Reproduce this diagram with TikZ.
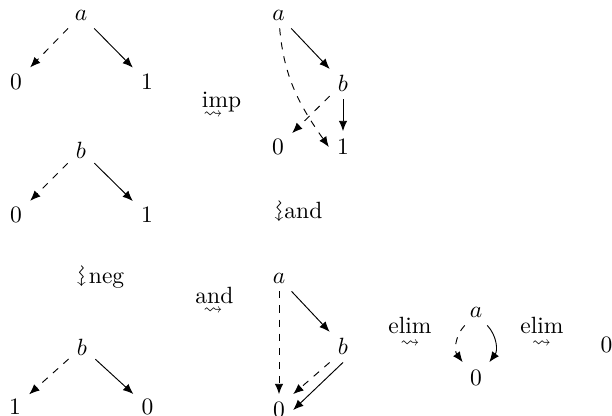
\documentclass[tikz,border=0pt]{standalone}
\usepackage{amssymb}
\usetikzlibrary{arrows.meta}
\begin{document}
\begin{tikzpicture}[x=0.4255pt,y=0.4255pt,
  every node/.style={inner sep=3.33pt},
  arr/.style={-{Latex[length=4.4pt,width=3.6pt]}, line width=0.4pt},
  darr/.style={arr,dashed},
  lbl/.style={inner sep=0pt, anchor=base west},
  sq/.style={inner sep=0pt, font=\footnotesize},
  vsq/.style={inner sep=0pt, rotate=-90}]
\useasboundingbox (0,0) rectangle (612,-416);
% tree 1
\node (a1) at (81,-15) {$a$};
\node (z1) at (16,-82) {$0$};
\node (o1) at (147,-82) {$1$};
\draw[darr] (a1) -- (z1);
\draw[arr] (a1) -- (o1);
% tree 2
\node (a2) at (278.5,-15) {$a$};
\node (b2) at (343,-83) {$b$};
\node (z2) at (278,-147) {$0$};
\node (o2) at (343,-147) {$1$};
\draw[arr] (a2) -- (b2);
\draw[darr] (a2) to[out=-85,in=125] (o2.west);
\draw[darr] (b2) -- (z2);
\draw[arr] (b2) -- (o2);
% imp
\node[lbl] (imp) at (201.5,-107.5) {imp};
\node[sq] (impsq) at (213,-115) {$\rightsquigarrow$};
% tree 3
\node (b3) at (81,-150) {$b$};
\node (z3) at (16,-215) {$0$};
\node (o3) at (147,-215) {$1$};
\draw[darr] (b3) -- (z3);
\draw[arr] (b3) -- (o3);
% vertical and
\node[vsq] (andsq) at (277.5,-211) {$\rightsquigarrow$};
\node[lbl] (andt) at (284,-218) {and};
% neg
\node[vsq] (negsq) at (80,-276) {$\rightsquigarrow$};
\node[lbl] (negt) at (88.5,-283) {neg};
% tree 4
\node (b4) at (82,-347) {$b$};
\node (l4) at (15,-407) {$1$};
\node (r4) at (147.5,-407) {$0$};
\draw[darr] (b4) -- (l4);
\draw[arr] (b4) -- (r4);
% and label
\node[lbl] (andl) at (195,-303) {and};
\node[sq] (andlsq) at (213,-311) {$\rightsquigarrow$};
% tree 5
\node (a5) at (279,-278) {$a$};
\node (b5) at (343,-346) {$b$};
\node (z5) at (279,-410) {$0$};
\draw[darr] (a5) -- (z5);
\draw[arr] (a5) -- (b5);
\draw[darr] (b5.south west) -- (z5.north east);
\draw[arr] (b5.south) -- (z5.east);
% elim 1
\node[lbl] (el1) at (388,-333) {elim};
\node[sq] (el1sq) at (410,-344) {$\rightsquigarrow$};
% tree 6
\node (a6) at (476,-312) {$a$};
\node (z6) at (476,-378) {$0$};
\draw[darr] (a6) to[bend right=40] (z6);
\draw[arr] (a6) to[bend left=40] (z6);
% elim 2
\node[lbl] (el2) at (520,-333) {elim};
\node[sq] (el2sq) at (541.5,-344) {$\rightsquigarrow$};
\node (fin) at (606.5,-345) {$0$};
\end{tikzpicture}
\end{document}
